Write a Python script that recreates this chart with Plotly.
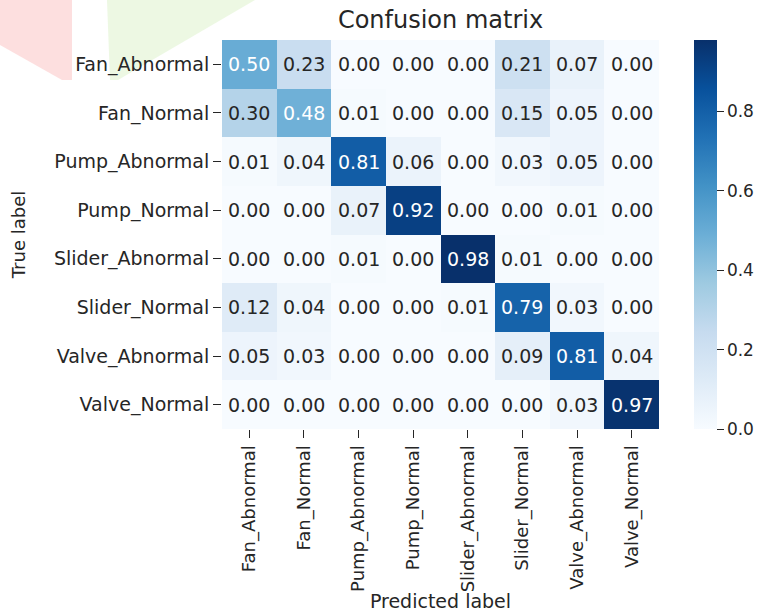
import plotly.graph_objects as go

labels = ["Fan_Abnormal", "Fan_Normal", "Pump_Abnormal", "Pump_Normal",
          "Slider_Abnormal", "Slider_Normal", "Valve_Abnormal", "Valve_Normal"]

row_fan_abnormal = [0.50, 0.23, 0.00, 0.00, 0.00, 0.21, 0.07, 0.00]
row_fan_normal = [0.30, 0.48, 0.01, 0.00, 0.00, 0.15, 0.05, 0.00]
row_pump_abnormal = [0.01, 0.04, 0.81, 0.06, 0.00, 0.03, 0.05, 0.00]
row_pump_normal = [0.00, 0.00, 0.07, 0.92, 0.00, 0.00, 0.01, 0.00]
row_slider_abnormal = [0.00, 0.00, 0.01, 0.00, 0.98, 0.01, 0.00, 0.00]
row_slider_normal = [0.12, 0.04, 0.00, 0.00, 0.01, 0.79, 0.03, 0.00]
row_valve_abnormal = [0.05, 0.03, 0.00, 0.00, 0.00, 0.09, 0.81, 0.04]
row_valve_normal = [0.00, 0.00, 0.00, 0.00, 0.00, 0.00, 0.03, 0.97]

z = [row_fan_abnormal, row_fan_normal, row_pump_abnormal, row_pump_normal,
     row_slider_abnormal, row_slider_normal, row_valve_abnormal, row_valve_normal]

cbar_ticks = [0.0, 0.2, 0.4, 0.6, 0.8]

blues = ["#f7fbff", "#deebf7", "#c6dbef", "#9ecae1", "#6baed6",
         "#4292c6", "#2171b5", "#08519c", "#08306b"]
colorscale = [[i / (len(blues) - 1), c] for i, c in enumerate(blues)]

zmin = 0.0
zmax = max(max(r) for r in z)

FONT = "DejaVu Sans"
TXT = "#262626"
H_SIZE = 19   # horizontal text
V_SIZE = 18   # rotated text

fig = go.Figure()
fig.add_trace(go.Heatmap(
    z=z, x=labels, y=labels,
    colorscale=colorscale, zmin=zmin, zmax=zmax,
    xgap=0, ygap=0,
    colorbar=dict(
        x=1.08, xanchor="left", xpad=0, ypad=0,
        y=0.5, yanchor="middle", len=1.0, lenmode="fraction",
        thickness=23, outlinewidth=0,
        tickvals=cbar_ticks, ticktext=[f"{v:.1f}" for v in cbar_ticks],
        ticks="outside", ticklen=7, tickwidth=1, tickcolor=TXT,
        tickfont=dict(family=FONT, size=17, color=TXT),
    ),
    hoverinfo="skip",
))

annotations = []
for i, row in enumerate(z):
    for j, v in enumerate(row):
        annotations.append(dict(
            x=labels[j], y=labels[i], text=f"{v:.2f}", showarrow=False,
            font=dict(family=FONT, size=H_SIZE,
                      color="white" if v / zmax > 0.45 else TXT),
        ))

# faint watermark shapes in the top-left corner of the source image
L, T, W, H = 222, 40, 437, 389
def px(xp, yp):
    return (xp - L) / W, (T + H - yp) / H

def path(points):
    s = ""
    for k, (a, b) in enumerate(points):
        xx, yy = px(a, b)
        s += ("M" if k == 0 else "L") + f"{xx:.4f},{yy:.4f} "
    return s + "Z"

shapes = [
    dict(type="path", xref="paper", yref="paper", layer="below", line_width=0,
         fillcolor="rgba(253,215,215,0.8)",
         path=path([(0, 0), (72, 0), (72, 80), (62, 80), (0, 45)])),
    dict(type="path", xref="paper", yref="paper", layer="below", line_width=0,
         fillcolor="rgba(232,246,220,0.8)",
         path=path([(107, 0), (255, 0), (118, 80), (110, 80)])),
]

fig.update_layout(
    width=759, height=612,
    margin=dict(l=L, r=759 - L - W, t=T, b=612 - T - H, pad=0, autoexpand=False),
    paper_bgcolor="white", plot_bgcolor="white",
    font=dict(family=FONT, size=H_SIZE, color=TXT),
    title=dict(text="Confusion matrix", x=(L + W / 2) / 759, xanchor="center",
               y=1 - 20 / 612, yanchor="middle",
               font=dict(family=FONT, size=24, color=TXT)),
    xaxis=dict(
        automargin=False,
        tickangle=-90, ticks="outside", ticklen=8, tickwidth=1, tickcolor=TXT,
        showgrid=False, zeroline=False, showline=False,
        tickfont=dict(family=FONT, size=V_SIZE, color=TXT),
        title=dict(text="Predicted label", standoff=0,
                   font=dict(family=FONT, size=H_SIZE, color=TXT)),
    ),
    yaxis=dict(
        automargin=False,
        autorange="reversed", ticks="outside", ticklen=8, tickwidth=1,
        tickcolor=TXT, showgrid=False, zeroline=False, showline=False,
        tickfont=dict(family=FONT, size=H_SIZE, color=TXT),
        title=dict(text="True label", standoff=23,
                   font=dict(family=FONT, size=V_SIZE, color=TXT)),
    ),
    annotations=annotations,
    shapes=shapes,
)

fig.write_html("out.html")
